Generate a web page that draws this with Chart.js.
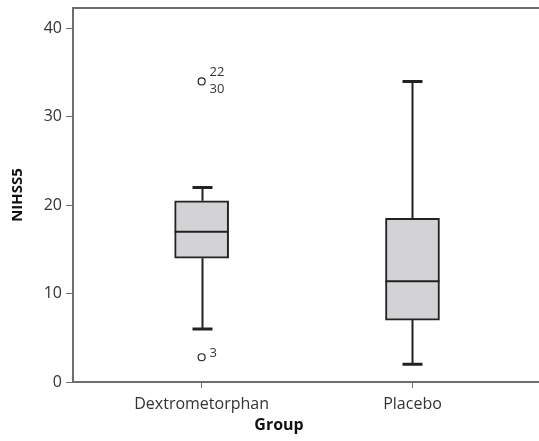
<!DOCTYPE html>
<html>
<head>
<meta charset="utf-8">
<script src="https://cdn.jsdelivr.net/npm/chart.js@4/dist/chart.umd.min.js"></script>
<style>
  html, body { margin: 0; padding: 0; background: #fff; }
  #wrap { width: 539px; height: 441px; }
</style>
</head>
<body>
<div id="wrap"><canvas id="box"></canvas></div>
<script>
'use strict'

// box plot values
const groups = ['Dextrometorphan', 'Placebo']
const whiskerLow = [6, 2]
const q1 = [14, 7]
const median = [17, 11.4]
const q3 = [20.5, 18.5]
const whiskerHigh = [22, 34]
const outlierGroup = [1, 1]
const outlierValue = [34, 2.8]
const outlierIds = [['22', '30'], ['3']]
const yTicks = [0, 10, 20, 30, 40]

const FONT = '"Open Sans", "Noto Sans", sans-serif'
const INK = '#222'
const AXIS = '#6e6e6e'

const boxExtras = {
  id: 'boxExtras',
  beforeDatasetsDraw(chart) {
    const { ctx, scales: { x, y } } = chart
    ctx.save()
    ctx.strokeStyle = INK
    groups.forEach((g, i) => {
      const cx = Math.round(x.getPixelForValue(i + 1)) + 0.5
      ctx.lineWidth = 2
      ctx.beginPath()
      ctx.moveTo(cx, y.getPixelForValue(q3[i]))
      ctx.lineTo(cx, y.getPixelForValue(whiskerHigh[i]))
      ctx.moveTo(cx, y.getPixelForValue(q1[i]))
      ctx.lineTo(cx, y.getPixelForValue(whiskerLow[i]))
      ctx.stroke()
      ctx.lineWidth = 3
      ctx.beginPath()
      ;[whiskerHigh[i], whiskerLow[i]].forEach(v => {
        const py = y.getPixelForValue(v)
        ctx.moveTo(cx - 10, py)
        ctx.lineTo(cx + 10, py)
      })
      ctx.stroke()
    })
    ctx.restore()
  },
  afterDatasetsDraw(chart) {
    const { ctx, chartArea, scales: { x, y } } = chart
    ctx.save()
    // medians
    ctx.strokeStyle = INK
    ctx.lineWidth = 2
    groups.forEach((g, i) => {
      const cx = x.getPixelForValue(i + 1)
      const py = y.getPixelForValue(median[i])
      ctx.beginPath()
      ctx.moveTo(cx - 27, py)
      ctx.lineTo(cx + 27, py)
      ctx.stroke()
    })
    // outlier case numbers
    ctx.fillStyle = '#333'
    ctx.font = '13px ' + FONT
    ctx.textAlign = 'left'
    ctx.textBaseline = 'middle'
    outlierIds.forEach((ids, i) => {
      const px = x.getPixelForValue(outlierGroup[i]) + 8
      const py = y.getPixelForValue(outlierValue[i])
      if (ids.length === 1) {
        ctx.fillText(ids[0], px, py - 4)
      } else {
        ids.forEach((t, k) => ctx.fillText(t, px, py - 9 + k * 17))
      }
    })
    // x axis title, sits left of centre in the original
    ctx.fillStyle = '#111'
    ctx.font = 'bold 16px ' + FONT
    ctx.textAlign = 'center'
    ctx.fillText('Group', 279, 425)
    // top frame line
    ctx.strokeStyle = AXIS
    ctx.lineWidth = 2
    ctx.beginPath()
    ctx.moveTo(chartArea.left - 1, chartArea.top)
    ctx.lineTo(chart.width, chartArea.top)
    ctx.stroke()
    ctx.restore()
  }
}

const boxChart = new Chart(document.getElementById('box'), {
  data: {
    datasets: [{
      type: 'bar',
      data: groups.map((g, i) => ({ x: i + 1, y: [q1[i], q3[i]] })),
      backgroundColor: '#d3d3d5',
      borderColor: INK,
      borderWidth: 2,
      borderSkipped: false,
      barThickness: 54,
      order: 2
    }, {
      type: 'scatter',
      data: outlierGroup.map((g, i) => ({ x: g, y: outlierValue[i] })),
      pointRadius: 3.5,
      pointBackgroundColor: '#fff',
      pointBorderColor: INK,
      pointBorderWidth: 1.2,
      order: 1
    }]
  },
  options: {
    responsive: true,
    maintainAspectRatio: false,
    animation: false,
    layout: { autoPadding: false, padding: { top: 8, right: 0, left: 0, bottom: 0 } },
    plugins: { legend: { display: false }, tooltip: { enabled: false } },
    scales: {
      x: {
        type: 'linear',
        min: 0.39,
        max: 2.6,
        offset: false,
        grid: { offset: false, drawOnChartArea: false, tickLength: 6, tickColor: AXIS, tickWidth: 1 },
        border: { color: AXIS, width: 2 },
        afterBuildTicks: s => { s.ticks = groups.map((g, i) => ({ value: i + 1 })) },
        ticks: {
          autoSkip: false,
          maxRotation: 0,
          padding: 7,
          color: '#333',
          font: { family: FONT, size: 16 },
          callback: v => groups[v - 1]
        },
        afterFit: s => { s.height = 59; s.paddingLeft = 0; s.paddingRight = 0 }
      },
      y: {
        min: 0,
        max: 42.3,
        grid: { drawOnChartArea: false, tickLength: 7, tickColor: AXIS, tickWidth: 1 },
        border: { color: AXIS, width: 2 },
        afterBuildTicks: s => { s.ticks = yTicks.map(v => ({ value: v })) },
        ticks: {
          padding: 4,
          color: '#333',
          font: { family: FONT, size: 16 }
        },
        title: {
          display: true,
          text: 'NIHSS5',
          color: '#111',
          font: { family: FONT, size: 15, weight: 'bold' },
          padding: { top: 9, bottom: 0 }
        },
        afterFit: s => { s.width = 73; s.paddingTop = 0; s.paddingBottom = 0 }
      }
    }
  },
  plugins: [boxExtras]
})
</script>
</body>
</html>
